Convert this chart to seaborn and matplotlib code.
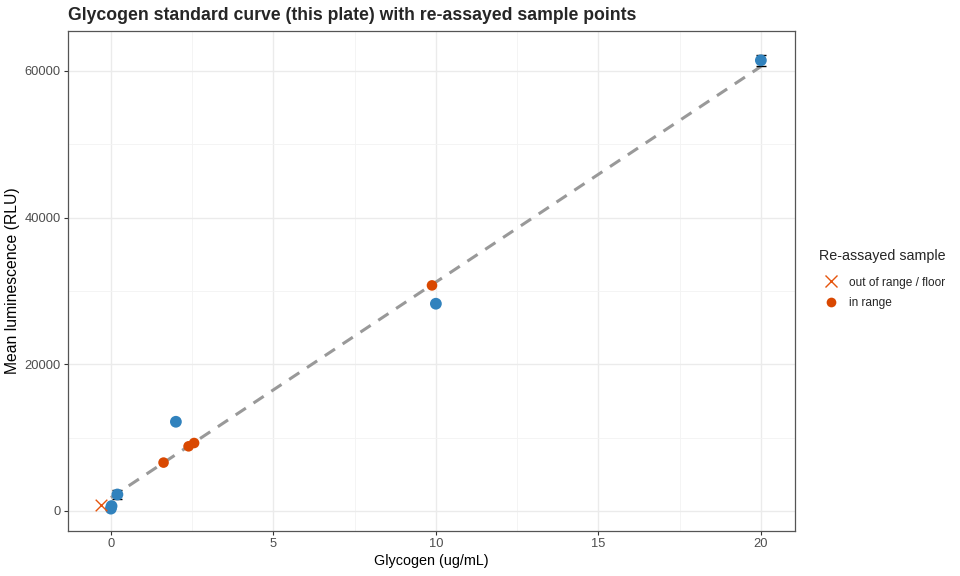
import numpy as np
import pandas as pd
import matplotlib
matplotlib.use("Agg")
import matplotlib.pyplot as plt
import seaborn as sns
from matplotlib.lines import Line2D

# standards on this plate
std_conc = [0.0, 0.02, 0.2, 2.0, 10.0, 20.0]
std_rlu = [300, 650, 2230, 12150, 28250, 61450]
std_sd = [0, 0, 620, 0, 0, 780]

# re-assayed samples (back-calculated conc vs measured RLU)
samp_conc = [-0.30, 1.62, 2.39, 2.56, 9.88]
samp_rlu = [800, 6580, 8800, 9250, 30750]
samp_status = ["out of range / floor", "in range", "in range", "in range", "in range"]

# linear fit
fit_intercept = 1800
fit_slope = 2940
fit_range = [0.0, 20.0]

blue = "#3182bd"
red = "#d94801"
cross_col = "#e6550d"

sns.set_theme(style="whitegrid")
plt.rcParams['font.family'] = ['Liberation Sans', 'DejaVu Sans']

fig = plt.figure(figsize=(9.6, 5.76), dpi=100)
ax = fig.add_axes([68 / 960, 1 - 531 / 576, (795 - 68) / 960, (531 - 31) / 576])

std = pd.DataFrame({"conc": std_conc, "rlu": std_rlu, "sd": std_sd})
samp = pd.DataFrame({"conc": samp_conc, "rlu": samp_rlu, "status": samp_status})

fx = np.array(fit_range)
ax.plot(fx, fit_intercept + fit_slope * fx, ls=(0, (4, 3)), color="#999999", lw=2.2, zorder=2)

has_sd = std[std.sd > 0]
ax.errorbar(has_sd.conc, has_sd.rlu, yerr=has_sd.sd, fmt="none", ecolor="black",
            elinewidth=1.0, capsize=3.6, capthick=1.0, zorder=3)
sns.scatterplot(data=std, x="conc", y="rlu", color=blue, s=72, edgecolor="none",
                ax=ax, zorder=4, legend=False)

inr = samp[samp.status == "in range"]
oor = samp[samp.status != "in range"]
sns.scatterplot(data=inr, x="conc", y="rlu", color=red, s=58, edgecolor="none",
                ax=ax, zorder=5, legend=False)
ax.scatter(oor.conc, oor.rlu, marker="x", color=cross_col, s=70, linewidths=1.0, zorder=5)

ax.set_xlim(-1.32, 21.05)
ax.set_ylim(-2750, 65450)
ax.set_xticks([0, 5, 10, 15, 20])
ax.set_yticks([0, 20000, 40000, 60000])
ax.set_xticks([2.5, 7.5, 12.5, 17.5], minor=True)
ax.set_yticks([10000, 30000, 50000], minor=True)
ax.grid(True, which="major", color="#ebebeb", lw=1.0)
ax.grid(True, which="minor", color="#f3f3f3", lw=0.6)
ax.set_axisbelow(True)
for sp in ax.spines.values():
    sp.set_color("#555555")
    sp.set_linewidth(0.9)
ax.tick_params(axis="both", which="major", labelsize=9.3, labelcolor="#4d4d4d",
               length=3, width=0.8, color="#333333", pad=2.2, left=True, bottom=True)
ax.tick_params(axis="both", which="minor", length=0)

ax.set_xlabel("Glycogen (ug/mL)", fontsize=10.4, color="black", labelpad=3)
ax.set_ylabel("Mean luminescence (RLU)", fontsize=11.3, color="black", labelpad=3)
fig.text(68 / 960, 1 - 15 / 576, "Glycogen standard curve (this plate) with re-assayed sample points",
         fontsize=12.7, fontweight="bold", va="center", ha="left")

handles = [
    Line2D([], [], marker="x", ls="none", color=cross_col, markersize=8, markeredgewidth=1.0),
    Line2D([], [], marker="o", ls="none", color=red, markersize=7, markeredgewidth=0),
]
leg = fig.legend(handles, ["out of range / floor", "in range"], title="Re-assayed sample",
                 loc="upper left", bbox_to_anchor=(808 / 960, 1 - 238 / 576), frameon=False,
                 fontsize=8.6, title_fontsize=10.3, handletextpad=0.5, labelspacing=0.7,
                 handlelength=2.0)
leg._legend_box.align = "left"
leg._legend_box.sep = 10

fig.savefig("out.png", dpi=100)
